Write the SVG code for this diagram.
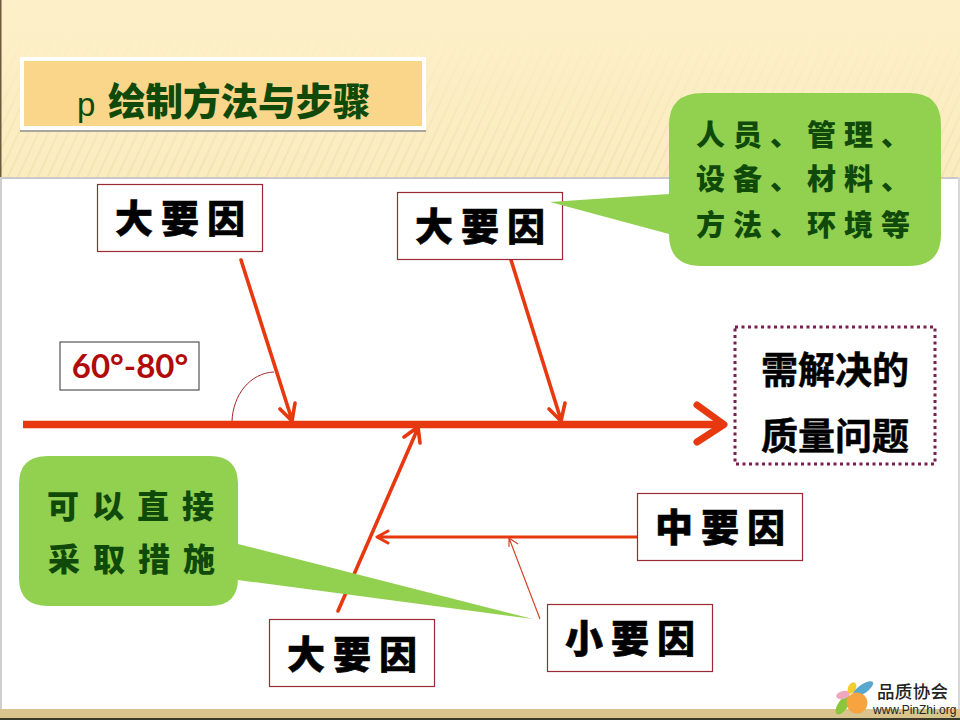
<svg xmlns="http://www.w3.org/2000/svg" width="960" height="720" viewBox="0 0 960 720">
<style>
.box{fill:#fff;stroke:#9a2b32;stroke-width:1.2}
.brush{font-family:"Noto Sans CJK SC","Noto Sans CJK JP",sans-serif;font-weight:900;fill:#000;stroke:#000;stroke-width:.6;text-anchor:middle;font-size:38px;letter-spacing:8px}
.note{font-family:"Noto Sans CJK SC",sans-serif;font-weight:900;fill:#0f4a0a;font-size:29px;text-anchor:start;letter-spacing:8px}
.note2{font-family:"Noto Sans CJK SC",sans-serif;font-weight:900;fill:#0f4a0a;font-size:32px;text-anchor:start;letter-spacing:13px}
.bold{font-family:"Noto Sans CJK SC",sans-serif;font-weight:700;fill:#000;stroke:#000;stroke-width:.5;text-anchor:middle;font-size:37px}
.bone{fill:none;stroke:#e8380f;stroke-linejoin:round}
.round{stroke-linecap:round}
.bubble{fill:#92d050}
</style>
<defs>
<linearGradient id="bg" x1="0" y1="0" x2="0" y2="1"><stop offset="0" stop-color="#fdf0c8"/><stop offset="1" stop-color="#fbecc0"/></linearGradient>
<pattern id="hatch" width="9" height="9" patternUnits="userSpaceOnUse" patternTransform="rotate(25)"><rect width="2" height="9" fill="#e8cf94" opacity=".3"/></pattern>
<linearGradient id="fade" x1="0" y1="0" x2="0" y2="1"><stop offset="0.2" stop-color="#000"/><stop offset="1" stop-color="#fff"/></linearGradient>
<mask id="m"><rect width="960" height="177" fill="url(#fade)"/></mask>
</defs>

<g id="background">
<rect width="960" height="720" fill="#fff"/>
<rect width="960" height="177" fill="url(#bg)"/>
<rect width="960" height="177" fill="url(#hatch)" mask="url(#m)"/>
<rect x="0" y="0" width="1.500" height="177" fill="#6b5a3c"/>
<rect x="0" y="177" width="960" height="2" fill="#c9c9c9"/>
<rect x="0" y="177" width="2" height="533" fill="#cfcfcf"/>
<rect x="958" y="177" width="2" height="533" fill="#d8d8d8"/>
<rect x="0" y="709" width="960" height="9" fill="#d9c48e"/>
<rect x="0" y="718" width="960" height="2" fill="#3a3a2a"/>
</g>

<g id="title">
<rect x="20" y="59" width="406" height="73" fill="#a9a79c"/>
<rect x="20" y="57" width="406" height="73" fill="#fff"/>
<rect x="24" y="61" width="398" height="65" fill="#f9d689"/>
<text x="77" y="116" font-family="Liberation Sans,sans-serif" font-size="33" fill="#0f4a0a">p</text>
<text x="108" y="115" font-family="Noto Sans CJK SC,sans-serif" font-weight="900" font-size="37.500" fill="#0f4a0a">绘制方法与步骤</text>
</g>

<g id="connectors">
<path class="bone" stroke-width="7.500" d="M23 424.500H722"/>
<path class="bone round" stroke-width="7" d="M697 405L724 424.500L697 442"/>
<path class="bone round" stroke-width="3.600" d="M241 260L292 420M280 409L292 421L295 403"/>
<path class="bone round" stroke-width="3.600" d="M511 260L561 420M549 409L561 421L565 403"/>
<path class="bone round" stroke-width="3.600" d="M338 611L418 428M404 437L418 427L420 443"/>
<path class="bone round" stroke-width="3" d="M637 537H378M388 531L377 537L388 543"/>
<path fill="none" stroke="#d8452a" stroke-width="1.200" d="M540 619L509 538M509 538L509 547M509 538L518 544"/>
<path fill="none" stroke="#a5262b" stroke-width="1" d="M232 421C233 395 250 373 274 372"/>
</g>

<g id="angle-label">
<rect x="60" y="342" width="139" height="48" fill="#fff" stroke="#333" stroke-width="1"/>
<text x="130" y="378" font-family="Lato,Liberation Sans,sans-serif" font-weight="700" font-size="33" fill="#b00a0a" text-anchor="middle">60°-80°</text>
</g>

<g id="node-top-left">
<rect class="box" x="97.500" y="184.500" width="165" height="67"/>
<text class="brush" x="184" y="232">大要因</text>
</g>
<g id="node-top-mid">
<rect class="box" x="397.500" y="192.500" width="165" height="67"/>
<text class="brush" x="484" y="240">大要因</text>
</g>
<g id="node-bottom">
<rect class="box" x="269.500" y="619.500" width="165" height="67"/>
<text class="brush" x="356" y="668">大要因</text>
</g>
<g id="node-middle">
<rect class="box" x="637.500" y="493.500" width="165" height="67"/>
<text class="brush" x="724" y="541">中要因</text>
</g>
<g id="node-small">
<rect class="box" x="547.500" y="604.500" width="165" height="67"/>
<text class="brush" x="634" y="652">小要因</text>
</g>

<g id="node-problem">
<rect x="735" y="327" width="200" height="137" fill="#fff" stroke="#7a1f4f" stroke-width="3" stroke-dasharray="3 3.500"/>
<text class="bold" x="835" y="384">需解决的</text>
<text class="bold" x="835" y="450">质量问题</text>
</g>

<g id="callout-top">
<path class="bubble" d="M703 93H909Q941 93 941 125V234Q941 266 909 266H701Q669 266 669 234L550 202L669 194V125Q669 93 703 93Z"/>
<text class="note" x="696" y="146">人员、管理、</text>
<text class="note" x="696" y="190">设备、材料、</text>
<text class="note" x="696" y="236">方法、环境等</text>
</g>

<g id="callout-bottom">
<path class="bubble" d="M48 456H210Q238 456 238 484V544L533 619L238 580V578Q238 606 210 606H48Q19 606 19 578V484Q19 456 48 456Z"/>
<text class="note2" x="47" y="518">可以直接</text>
<text class="note2" x="48" y="571">采取措施</text>
</g>

<g id="logo">
<ellipse cx="843" cy="705" rx="11" ry="5" fill="#8cc63f" transform="rotate(-55 843 705)"/>
<ellipse cx="843" cy="695" rx="7" ry="4" fill="#f0a8c0" transform="rotate(-15 843 695)"/>
<ellipse cx="852" cy="688" rx="4" ry="6" fill="#f3cc30" transform="rotate(25 852 688)"/>
<ellipse cx="863" cy="689" rx="12" ry="4.500" fill="#58a8d0" transform="rotate(-35 863 689)"/>
<circle cx="857" cy="703" r="10.500" fill="#f7a440"/>
<text x="877" y="698" font-family="Noto Sans CJK SC,sans-serif" font-weight="500" font-size="17.500" fill="#222" textLength="71">品质协会</text>
<text x="873" y="714" font-family="Liberation Sans,sans-serif" font-size="12" fill="#222">www.PinZhi.org</text>
</g>
</svg>
